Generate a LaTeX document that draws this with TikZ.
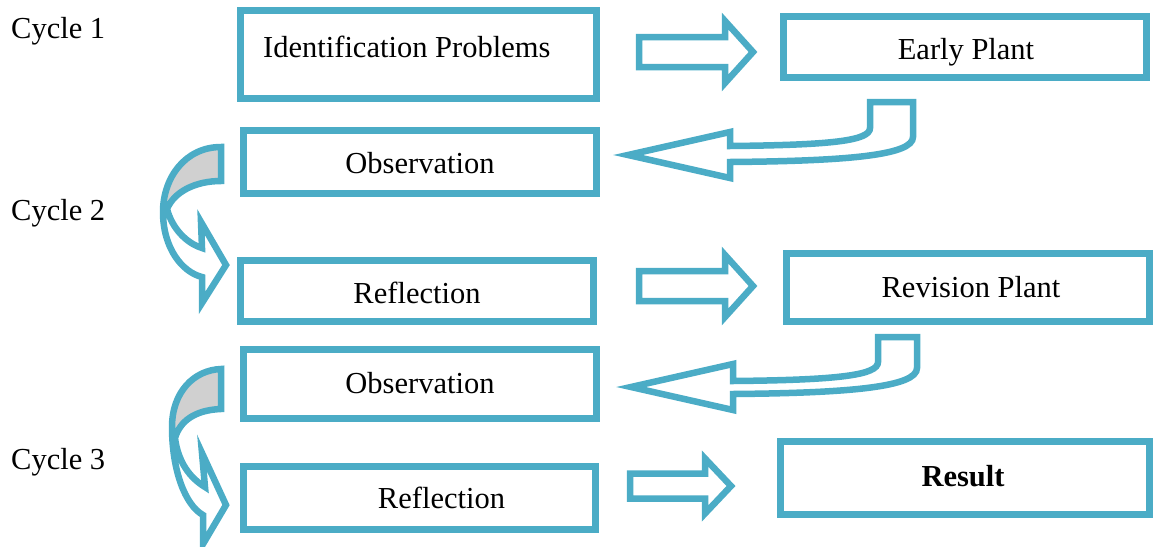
\documentclass[tikz,border=0pt]{standalone}
\usepackage{fontspec}
\setmainfont{Liberation Serif}
\definecolor{aqua}{RGB}{75,172,198}
\definecolor{crescentgray}{RGB}{208,208,208}
\begin{document}
\begin{tikzpicture}[x=1pt,y=-1pt,
  box/.style={draw=aqua, line width=7pt, fill=white, inner sep=0pt, outer sep=0pt},
  lbl/.style={font=\fontsize{30.5}{36}\selectfont, anchor=base, inner sep=0pt, text=black},
  blockarrow/.style={draw=aqua, line width=6.5pt, line join=miter, miter limit=10, fill=white},
  curvedarrow/.style={draw=aqua, line width=6.5pt, line join=miter, miter limit=10},
  backfill/.style={fill=crescentgray}]
\useasboundingbox (0,0) rectangle (1153,546);

% boxes
\node[box, minimum width=356pt, minimum height=88pt] (idp) at (418.5,54.5) {};
\node[box, minimum width=363pt, minimum height=61pt] (early) at (964.5,46.5) {};
\node[box, minimum width=353pt, minimum height=63pt] (obs1) at (420,162) {};
\node[box, minimum width=353pt, minimum height=61pt] (ref1) at (417,291) {};
\node[box, minimum width=363pt, minimum height=68pt] (rev) at (968,287.5) {};
\node[box, minimum width=353pt, minimum height=69pt] (obs2) at (420,384) {};
\node[box, minimum width=352pt, minimum height=63pt] (ref2) at (419.5,498) {};
\node[box, minimum width=369pt, minimum height=73pt] (result) at (965,478) {};

% labels
\node[lbl, anchor=base west] (tidp) at (263,57) {Identification Problems};
\node[lbl] (tearly) at (966,59) {Early Plant};
\node[lbl] (tobs1) at (420,173) {Observation};
\node[lbl] (tref1) at (417,303) {Reflection};
\node[lbl] (trev) at (971,297) {Revision Plant};
\node[lbl] (tobs2) at (420,393) {Observation};
\node[lbl] (tref2) at (441.5,508) {Reflection};
\node[lbl, font=\fontsize{30.5}{36}\selectfont\bfseries] (tres) at (963,486) {Result};
\node[lbl, anchor=base west] (c1) at (11,38) {Cycle 1};
\node[lbl, anchor=base west] (c2) at (11,220) {Cycle 2};
\node[lbl, anchor=base west] (c3) at (11,469) {Cycle 3};

% straight block arrows
\draw[blockarrow] (639,37) -- (725,37) -- (725,21) -- (753,52) -- (725,83) -- (725,67) -- (639,67) -- cycle;
\draw[blockarrow] (639,271) -- (725,271) -- (725,255) -- (753,286) -- (725,317) -- (725,301) -- (639,301) -- cycle;
\draw[blockarrow] (630,473.5) -- (705,473.5) -- (705,458.5) -- (731,486) -- (705,513.5) -- (705,498.5) -- (630,498.5) -- cycle;

% U-turn block arrows
\draw[blockarrow] (730,146) -- (730,132) -- (628,155) -- (730,178) -- (730,162)
  .. controls (850,161) and (913,155) .. (913,137) -- (913,102) -- (870,102) -- (870,128)
  .. controls (870,141) and (830,145) .. (730,146) -- cycle;
\draw[blockarrow] (733,381) -- (733,364) -- (631,387) -- (733,410) -- (733,394)
  .. controls (850,393) and (917,387) .. (917,368) -- (917,337) -- (878,337) -- (878,362)
  .. controls (878,375) and (840,380) .. (733,381) -- cycle;

% curved block arrows (left)
\path[backfill] (221,147) .. controls (185,147) and (163,178) .. (163,212)
  -- (167,209) .. controls (174,192) and (195,181) .. (221,181) -- cycle;
\draw[curvedarrow]
  (221,147) .. controls (185,147) and (163,178) .. (163,212)
  .. controls (163,248) and (182,272) .. (202,277)
  -- (202,303) -- (226,265) -- (201,222) -- (202,248)
  .. controls (186,243) and (172,228) .. (167,209)
  .. controls (174,192) and (195,181) .. (221,181) -- cycle;

\path[backfill] (221,369) .. controls (194,370) and (172,392) .. (172,427)
  -- (175,438) .. controls (180,421) and (195,410) .. (221,409) -- cycle;
\draw[curvedarrow]
  (221,369) .. controls (194,370) and (172,392) .. (172,427)
  .. controls (172,470) and (185,505) .. (203,515)
  -- (203,544) -- (226,505) -- (202,453) -- (205,487)
  .. controls (190,478) and (178,462) .. (175,438)
  .. controls (180,421) and (195,410) .. (221,409) -- cycle;
\end{tikzpicture}
\end{document}
